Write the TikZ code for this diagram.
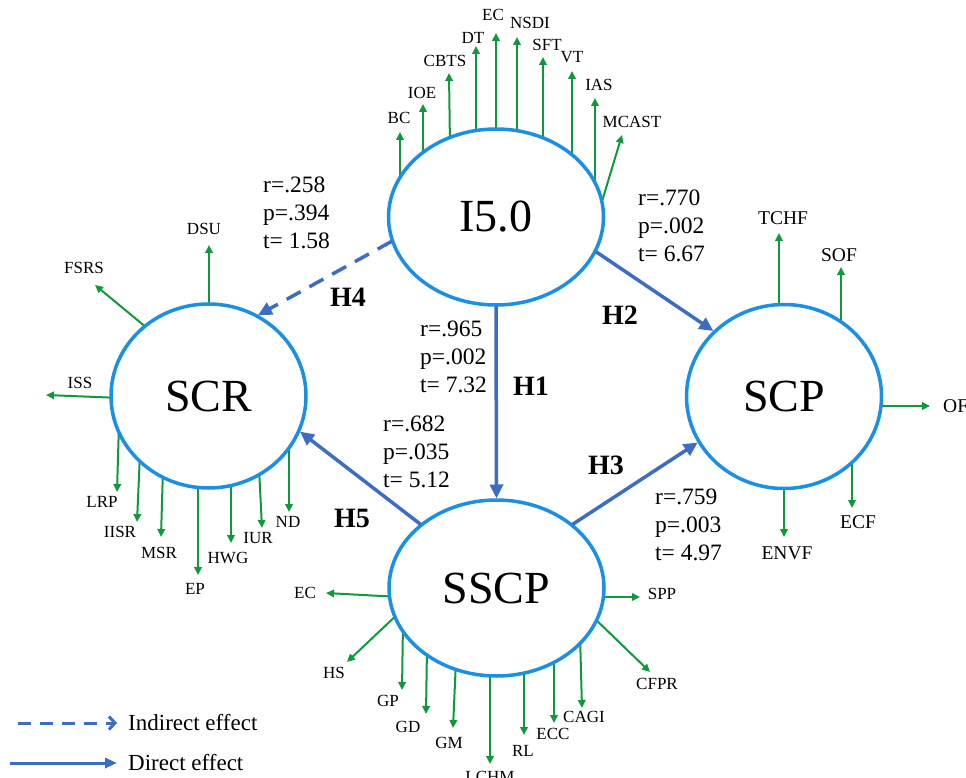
\documentclass[tikz,border=0pt]{standalone}
\usepackage{fontspec}
\setmainfont{Liberation Serif}
\usetikzlibrary{arrows.meta,shapes.geometric}
\definecolor{ellblue}{HTML}{1A8FE3}
\definecolor{connblue}{HTML}{3D6CC3}
\definecolor{indgreen}{HTML}{10993A}
\tikzset{
  lat/.style={ellipse, draw=ellblue, line width=3.5pt, fill=white, inner sep=0pt, outer sep=0pt,
    font=\fontsize{46}{50}\selectfont},
  bigell/.style={lat, minimum width=215pt, minimum height=176pt},
  smallell/.style={lat, minimum width=195pt, minimum height=184pt},
  conn/.style={draw=connblue, line width=3.5pt, -{Triangle[length=14pt,width=13pt]}, shorten >=1.5pt, shorten <=1pt},
  ind/.style={draw=indgreen, line width=2pt, -{Triangle[length=8pt,width=7.5pt]}},
  lab/.style={font=\fontsize{17}{20}\selectfont, inner sep=0pt},
  labp/.style={font=\fontsize{19.5}{22}\selectfont, inner sep=0pt},
  stat/.style={font=\fontsize{23.5}{28}\selectfont, align=left, inner sep=0pt, anchor=west},
  hyp/.style={font=\bfseries\fontsize{28}{30}\selectfont, inner sep=0pt},
  legtext/.style={font=\fontsize{23}{26}\selectfont, inner sep=0pt, anchor=west}
}
\begin{document}
\begin{tikzpicture}[x=1pt, y=-1pt]
\useasboundingbox (0,0) rectangle (966,778);

% ---------- indicators of I5.0 ----------
\foreach \n/\t/\sx/\sy/\tx/\ty/\lx/\ly in {
  bc/BC/400/186/400/132/399/118,
  ioe/IOE/423/164/423/104/422/93,
  cbts/CBTS/450/147/449/73/445/61,
  dt/DT/476/139/476/46/473/38,
  ec/EC/496/138/496/33/493/15,
  nsdi/NSDI/517/139/517/37/530/23,
  sft/SFT/543/148/543/57/547/45,
  vt/VT/572/164/572/71/572/57,
  ias/IAS/595/192/595/98/599/85,
  mcast/MCAST/600/208/622/135/632/122}{
  \coordinate (i-\n-s) at (\sx,\sy);
  \coordinate (i-\n-t) at (\tx,\ty);
  \node[lab] (i-\n-l) at (\lx,\ly) {\t};
  \draw[ind] (i-\n-s) -- (i-\n-t);
}

% ---------- indicators of SCR ----------
\foreach \n/\t/\sx/\sy/\tx/\ty/\lx/\ly in {
  dsu/DSU/209/314/209/245/204/229,
  fsrs/FSRS/153/333/95/285/84/268,
  iss/ISS/121/398/46/395/80/383,
  lrp/LRP/119/423/117/492/102/502,
  iisr/IISR/140/453/137/522/120/532,
  msr/MSR/163/468/161/537/159/553,
  ep/EP/198/478/198/575/195/589,
  hwg/HWG/231/475/231/543/228/558,
  iur/IUR/259/468/262/528/258/538,
  nd/ND/289/442/289/512/288/522}{
  \coordinate (r-\n-s) at (\sx,\sy);
  \coordinate (r-\n-t) at (\tx,\ty);
  \node[lab] (r-\n-l) at (\lx,\ly) {\t};
  \draw[ind] (r-\n-s) -- (r-\n-t);
}

% ---------- indicators of SSCP ----------
\foreach \n/\t/\sx/\sy/\tx/\ty/\lx/\ly in {
  ec/EC/400/597/326/593/305/593,
  hs/HS/402/610/347/662/334/673,
  gp/GP/403/622/402/690/388/701,
  gd/GD/427/647/426/714/408/727,
  gm/GM/456/660/453/728/449/743,
  lchm/LCHM/490/667/490/764/490/777,
  rl/RL/524/667/524/735/523/751,
  ecc/ECC/554/655/554/723/553/734,
  cagi/CAGI/580/635/582/708/584/717,
  cfpr/CFPR/591/615/650/672/657/684,
  spp/SPP/593/597/640/597/662/594}{
  \coordinate (s-\n-s) at (\sx,\sy);
  \coordinate (s-\n-t) at (\tx,\ty);
  \node[lab] (s-\n-l) at (\lx,\ly) {\t};
  \draw[ind] (s-\n-s) -- (s-\n-t);
}

% ---------- indicators of SCP ----------
\foreach \n/\t/\sx/\sy/\tx/\ty/\lx/\ly in {
  tchf/TCHF/779/314/779/233/783/218,
  sof/SOF/841/328/841/267/839/255,
  ecf/ECF/852/456/852/508/858/522,
  envf/ENVF/784/478/784/537/787/553}{
  \coordinate (p-\n-s) at (\sx,\sy);
  \coordinate (p-\n-t) at (\tx,\ty);
  \node[labp] (p-\n-l) at (\lx,\ly) {\t};
  \draw[ind] (p-\n-s) -- (p-\n-t);
}
\coordinate (p-of-s) at (871,406);
\coordinate (p-of-t) at (930,406);
\node[labp, anchor=west] (p-of-l) at (943,406) {OF};
\draw[ind] (p-of-s) -- (p-of-t);

% ---------- latent constructs ----------
\node[bigell] (I50) at (496,217) {I5.0};
\node[smallell] (SCR) at (208.5,396) {SCR};
\node[smallell] (SCP) at (784,396.5) {SCP};
\node[bigell] (SSCP) at (496.5,588) {SSCP};

% ---------- hypotheses ----------
\draw[conn] (I50.south) -- (SSCP.north);
\draw[conn] (I50.-19) -- (SCP.137);
\draw[conn] (SSCP.40) -- (SCP.208);
\draw[conn, dash pattern=on 16pt off 10pt] (I50.193) -- (SCR.59);
\draw[conn] (SSCP.140) -- (SCR.-21);

\node[hyp] (h1) at (531,386) {H1};
\node[hyp] (h2) at (620,315) {H2};
\node[hyp] (h3) at (606,465) {H3};
\node[hyp] (h4) at (348,297) {H4};
\node[hyp] (h5) at (352,518) {H5};

\node[stat] (s4) at (263,213) {r=.258\\p=.394\\t= 1.58};
\node[stat] (s2) at (638,226) {r=.770\\p=.002\\t= 6.67};
\node[stat] (s1) at (420,357) {r=.965\\p=.002\\t= 7.32};
\node[stat] (s5) at (383,452) {r=.682\\p=.035\\t= 5.12};
\node[stat] (s3) at (655,525) {r=.759\\p=.003\\t= 4.97};

% ---------- legend ----------
\coordinate (lg1a) at (18,723);
\coordinate (lg1b) at (117,723);
\coordinate (lg2a) at (10,763);
\coordinate (lg2b) at (117,763);
\draw[draw=connblue, line width=3pt, dash pattern=on 13pt off 9pt, -{Straight Barb[length=6pt,width=13pt,line width=3pt]}] (lg1a) -- (lg1b);
\draw[draw=connblue, line width=3pt, -{Triangle[length=12pt,width=10pt]}] (lg2a) -- (lg2b);
\node[legtext] (lgt1) at (128,723) {Indirect effect};
\node[legtext] (lgt2) at (128,763) {Direct effect};
\end{tikzpicture}
\end{document}
